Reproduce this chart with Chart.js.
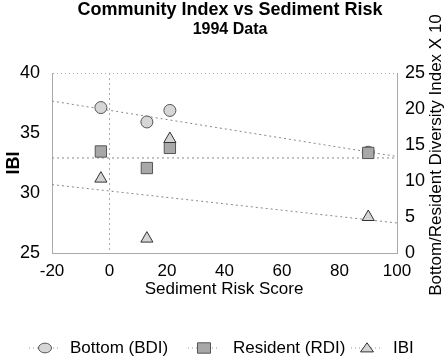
<!DOCTYPE html>
<html><head><meta charset="utf-8">
<script src="https://cdn.jsdelivr.net/npm/chart.js@4"></script>
<style>html,body{margin:0;padding:0;background:#fff}#w{width:446px;height:357px}</style>
</head><body><div id="w"><canvas id="c" width="446" height="357"></canvas></div>
<script>
const riskScore = [-3, 13, 21, 90];
const bottomBDI = [20.2, 18.2, 19.8, 14.0];
const residentRDI = [14.1, 11.8, 14.6, 13.9];
const ibi = [31.2, 26.2, 34.5, 28.0];
const trendX = [-20, 100];
const trendBDI = [21.1, 13.4];
const trendRDI = [13.2, 13.2];
const trendIBI = [30.7, 27.5];
const xTicks = [-20, 0, 20, 40, 60, 80, 100];
const legendLabels = ['Bottom (BDI)', 'Resident (RDI)', 'IBI'];
const FONT = "'Liberation Sans', Arial, sans-serif";

const pts = (xs, ys) => xs.map((x, i) => ({x, y: ys[i]}));

function marker(ctx, style, x, y, r, fill, stroke) {
  ctx.save();
  ctx.fillStyle = fill; ctx.strokeStyle = stroke; ctx.lineWidth = 1;
  ctx.beginPath();
  if (style === 'circle') {
    ctx.ellipse(x, y, r, r * 0.75, 0, 0, Math.PI * 2);
  } else if (style === 'rect') {
    ctx.rect(x - r, y - r * 0.8, 2 * r, 1.6 * r);
  } else {
    ctx.moveTo(x, y - r * 0.8); ctx.lineTo(x + r, y + r * 0.6); ctx.lineTo(x - r, y + r * 0.6); ctx.closePath();
  }
  ctx.fill(); ctx.stroke();
  ctx.restore();
}

const titles = {
  id: 'titles',
  afterDraw(chart) {
    const ctx = chart.ctx;
    ctx.save();
    ctx.fillStyle = '#000';
    ctx.textAlign = 'center';
    ctx.textBaseline = 'middle';
    ctx.font = 'bold 18px ' + FONT;
    ctx.fillText('Community Index vs Sediment Risk', 230, 10);
    ctx.font = 'bold 16px ' + FONT;
    ctx.fillText('1994 Data', 230, 30);
    ctx.font = '17px ' + FONT;
    ctx.fillText('Sediment Risk Score', 224, 289);
    ctx.save();
    ctx.translate(14, 163); ctx.rotate(-Math.PI / 2);
    ctx.font = 'bold 18px ' + FONT;
    ctx.fillText('IBI', 0, 0);
    ctx.restore();
    ctx.save();
    ctx.translate(436, 155); ctx.rotate(-Math.PI / 2);
    ctx.font = '17px ' + FONT;
    ctx.fillText('Bottom/Resident Diversity Index X 10', 0, 0);
    ctx.restore();
    // legend
    const ds = chart.data.datasets;
    const find = (l) => ds.find(d => d.label === l);
    const mx = [45, 204, 367], tx = [70, 233, 393], ly = 348;
    ctx.textAlign = 'left';
    legendLabels.forEach((lab, i) => {
      const d = find(lab);
      ctx.save();
      ctx.strokeStyle = '#999'; ctx.setLineDash([1, 3]);
      ctx.beginPath(); ctx.moveTo(mx[i] - 16, ly); ctx.lineTo(mx[i] + 16, ly); ctx.stroke();
      ctx.restore();
      marker(ctx, d.pointStyle, mx[i], ly, 6.5, d.backgroundColor, d.borderColor);
      ctx.font = '17px ' + FONT;
      ctx.fillStyle = '#000';
      ctx.fillText(lab, tx[i], ly);
    });
    ctx.restore();
  }
};

const trendStyle = {type: 'line', borderColor: '#888', borderWidth: 1, borderDash: [2, 3], pointRadius: 0, fill: false};

new Chart(document.getElementById('c'), {
  type: 'scatter',
  data: {
    datasets: [
      {label: 'Resident (RDI)', data: pts(riskScore, residentRDI), yAxisID: 'y2', pointStyle: 'rect', pointRadius: 8,
       backgroundColor: '#a8a8a8', borderColor: '#555', borderWidth: 1, order: 1},
      {label: 'Bottom (BDI)', data: pts(riskScore, bottomBDI), yAxisID: 'y2', pointStyle: 'circle', pointRadius: 6,
       backgroundColor: '#d6d6d6', borderColor: '#555', borderWidth: 1, order: 2},
      {label: 'IBI', data: pts(riskScore, ibi), yAxisID: 'y', pointStyle: 'triangle', pointRadius: 7,
       backgroundColor: '#d4d4d4', borderColor: '#333', borderWidth: 1, order: 0},
      Object.assign({label: 'tBDI', data: pts(trendX, trendBDI), yAxisID: 'y2', order: 5}, trendStyle),
      Object.assign({label: 'tRDI', data: pts(trendX, trendRDI), yAxisID: 'y2', order: 5}, trendStyle),
      Object.assign({label: 'tIBI', data: pts(trendX, trendIBI), yAxisID: 'y', order: 5}, trendStyle)
    ]
  },
  options: {
    responsive: false,
    animation: false,
    events: [],
    layout: {padding: {top: 73, left: 0, right: 0, bottom: 44}},
    plugins: {
      title: {display: false},
      tooltip: {enabled: false},
      legend: {display: false}
    },
    scales: {
      x: {
        type: 'linear', min: -20, max: 100,
        afterBuildTicks: (s) => { s.ticks = xTicks.map(v => ({value: v})); },
        ticks: {color: '#000', font: {family: FONT, size: 17}, padding: 8},
        grid: {drawTicks: false, lineWidth: 1,
               color: (c) => c.tick && c.tick.value === 0 ? '#aaa' : 'rgba(0,0,0,0)'},
        border: {display: true, color: '#aaa', dash: [2, 3]},
        afterFit: (s) => { s.height = 60; }
      },
      y: {
        position: 'left', min: 25, max: 40,
        ticks: {stepSize: 5, color: '#000', font: {family: FONT, size: 18}, padding: 12},
        grid: {drawTicks: false,
               color: (c) => c.tick && c.tick.value === 40 ? '#aaa' : 'rgba(0,0,0,0)'},
        border: {display: true, color: '#aaa', dash: [1, 3]},
        afterFit: (s) => { s.width = 52; }
      },
      y2: {
        position: 'right', min: 0, max: 25,
        ticks: {stepSize: 5, color: '#000', font: {family: FONT, size: 18}, padding: 8},
        grid: {display: false, drawTicks: false},
        border: {display: true, color: '#aaa', dash: [1, 3]},
        afterFit: (s) => { s.width = 49; }
      }
    }
  },
  plugins: [titles]
});
</script>
</body></html>
